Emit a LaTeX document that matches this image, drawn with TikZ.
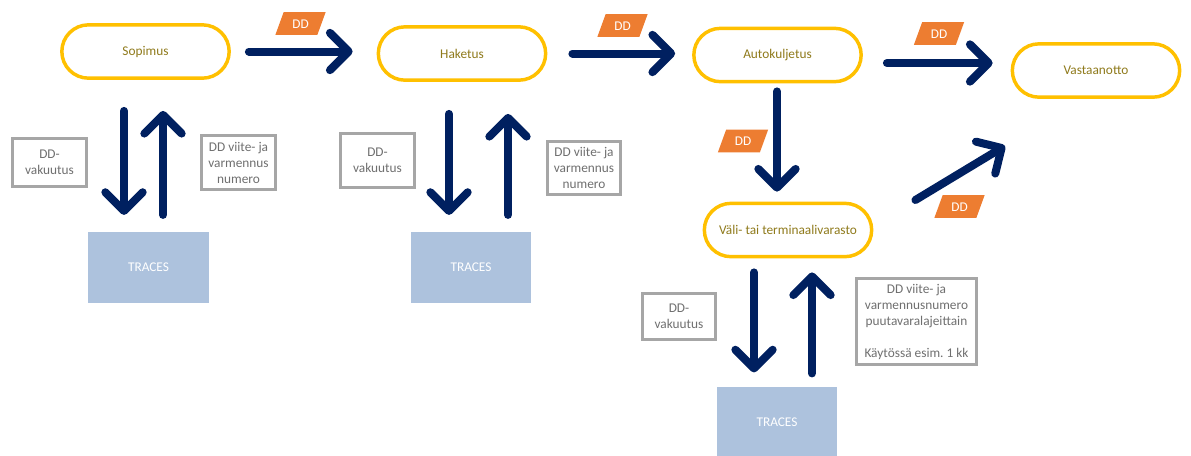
\documentclass[tikz,border=0pt]{standalone}
\usepackage{fontspec}
\setmainfont{Carlito}
\usetikzlibrary{arrows.meta}
\usetikzlibrary{shapes.geometric, shapes.misc}
\usetikzlibrary{calc}

\definecolor{pillgold}{HTML}{FFC000}
\definecolor{pilltext}{HTML}{8F7A1B}
\definecolor{navy}{HTML}{002060}
\definecolor{ddorange}{HTML}{ED7D31}
\definecolor{tracesblue}{HTML}{ADC2DD}
\definecolor{boxgray}{HTML}{A6A6A6}
\definecolor{boxtext}{HTML}{6F6F6F}

\tikzset{
  stage/.style={rounded rectangle, draw=pillgold, line width=2.6pt, fill=white,
    text=pilltext, font=\fontsize{10}{12}\selectfont,
    minimum width=125.5pt, minimum height=40pt, inner sep=0pt},
  traces/.style={rectangle, fill=tracesblue, text=white, font=\fontsize{10}{12}\selectfont,
    minimum width=90.5pt, minimum height=53pt, inner sep=0pt},
  note/.style={rectangle, draw=boxgray, line width=2.2pt, fill=white, text=boxtext,
    align=center, font=\fontsize{10}{12}\selectfont, inner sep=0pt},
  ddtag/.style={trapezium, trapezium left angle=70, trapezium right angle=110,
    trapezium stretches body, fill=ddorange, text=white, font=\fontsize{10}{12}\selectfont,
    text height=7pt, text depth=0pt, inner xsep=6.5pt, inner ysep=5pt},
  flow/.style={draw=navy, line width=6pt, line cap=round,
    -{Straight Barb[length=14pt, width=28pt, round]}}
}

\begin{document}
\frenchspacing
\begin{tikzpicture}[x=0.75pt, y=-0.75pt]
    \useasboundingbox (0,0) rectangle (1191,455);

    % stages
    \node[stage] (sop) at (145.5,51.5) {Sopimus};
    \node[stage] (hak) at (462,53.5) {Haketus};
    \node[stage] (auto) at (777.5,55) {Autokuljetus};
    \node[stage] (vast) at (1096,70.5) {Vastaanotto};
    \node[stage] (vali) at (788,230) {Väli- tai terminaalivarasto};

    % traces
    \node[traces] (tr1) at (148.5,267.5) {TRACES};
    \node[traces] (tr2) at (471,267.5) {TRACES};
    \node[traces] (tr3) at (777,422) {TRACES};

    % notes
    \node[note, minimum width=55.5pt, minimum height=36pt] (ins1) at (49.5,162.5) {DD-\\vakuutus};
    \node[note, minimum width=55.5pt, minimum height=40.5pt] (ref1) at (238.5,162.5) {DD viite- ja\\varmennus\\numero};
    \node[note, minimum width=55.5pt, minimum height=40.5pt] (ins2) at (377.5,160.5) {DD-\\vakuutus};
    \node[note, minimum width=54.75pt, minimum height=39.75pt] (ref2) at (584,168) {DD viite- ja\\varmennus\\numero};
    \node[note, minimum width=54.75pt, minimum height=34.5pt] (ins3) at (679,316.5) {DD-\\vakuutus};
    \node[note, minimum width=90pt, minimum height=64.5pt] (ref3) at (916.5,321.5)
        {DD viite- ja\\varmennusnumero\\puutavaralajeittain\\[12pt]Käytössä esim.\ 1 kk};

    % dd tags
    \node[ddtag] (dd1) at (300.5,23.5) {DD};
    \node[ddtag] (dd2) at (622.5,25.5) {DD};
    \node[ddtag] (dd3) at (939,33.5) {DD};
    \node[ddtag] (dd4) at (743,141) {DD};
    \node[ddtag] (dd5) at (959.5,206.5) {DD};

    % main flow
    \draw[flow] ($(sop.east)+(18,0)$) -- ($(hak.west |- sop.east)+(-24,0)$);
    \draw[flow] ($(hak.east)+(25,0)$) -- ($(auto.west |- hak.east)+(-17,0)$);
    \draw[flow] ($(auto.east)+(24,8)$) -- ($(vast.west)+(-18,-7.5)$);
    \draw[flow] ($(auto.south)+(-0.5,8)$) -- ($(auto.south |- vali.north)+(-0.5,-10)$);
    \draw[flow] ($(vali.east)+(42,-30)$) -- ($(vast.south)+(-91,47)$);

    % traces exchange
    \draw[flow] ($(sop.south)+(-21.5,31)$) -- ($(sop.south |- tr1.north)+(-21.5,-17)$);
    \draw[flow] ($(tr1.north)+(14.5,-17)$) -- ($(tr1.north |- sop.south)+(14.5,31)$);
    \draw[flow] ($(hak.south)+(-13,32)$) -- ($(hak.south |- tr2.north)+(-13,-17)$);
    \draw[flow] ($(tr2.north)+(37,-17)$) -- ($(tr2.north |- hak.south)+(37,32)$);
    \draw[flow] ($(vali.south)+(-34,14)$) -- ($(vali.south |- tr3.north)+(-34,-14)$);
    \draw[flow] ($(tr3.north)+(35,-13)$) -- ($(tr3.north |- vali.south)+(35,14)$);
\end{tikzpicture}
\end{document}
